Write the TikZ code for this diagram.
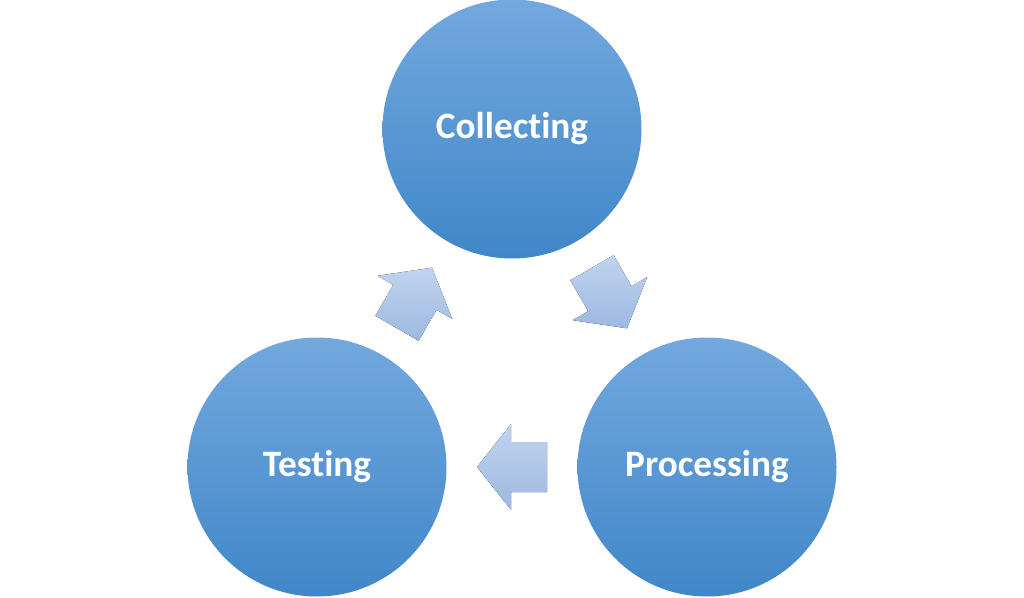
\documentclass[tikz,border=0pt]{standalone}
\usepackage{fontspec}
\setmainfont{Carlito}[Ligatures=NoCommon]
\usepackage{tikz}
\usetikzlibrary{calc, positioning}
\definecolor{stagetop}{RGB}{115,168,222}
\definecolor{stagebot}{RGB}{64,135,201}
\definecolor{flowtop}{RGB}{192,212,239}
\definecolor{flowbot}{RGB}{157,184,224}
\tikzset{
  stage/.style={circle, minimum size=2.59cm, inner sep=0pt,
    top color=stagetop, bottom color=stagebot, draw=none,
    text=white, font=\fontsize{10.6}{12}\selectfont\bfseries},
  flow/.style={draw=none, top color=flowtop, bottom color=flowbot}
}
% block arrow: name, centre, direction
\newcommand{\flowarrow}[3]{%
  \coordinate (#1) at #2;
  \fill[flow] ($(#1)+(#3:0.35)$)
    -- ($(#1)+(#3:0.008)+({#3+90}:0.43)$)
    -- ($(#1)+(#3:0.008)+({#3+90}:0.25)$)
    -- ($(#1)+(#3:-0.35)+({#3+90}:0.25)$)
    -- ($(#1)+(#3:-0.35)+({#3-90}:0.25)$)
    -- ($(#1)+(#3:0.008)+({#3-90}:0.25)$)
    -- ($(#1)+(#3:0.008)+({#3-90}:0.43)$)
    -- cycle;}

\begin{document}
\begin{tikzpicture}
  \useasboundingbox (0,0) rectangle (10.24,5.97);
  % Stages
  \node[stage] (collect) at (5.12,4.68) {Collecting};
  \node[stage] (test) at (3.17,1.30) {Testing};
  \node[stage] (process) at (7.07,1.30) {Processing};

  % Flow arrows
  \flowarrow{cp}{($(collect)!0.5!(process)$)}{-60}
  \flowarrow{pt}{($(process)!0.5!(test)$)}{180}
  \flowarrow{tc}{($(test)!0.5!(collect)$)}{60}
\end{tikzpicture}
\end{document}
